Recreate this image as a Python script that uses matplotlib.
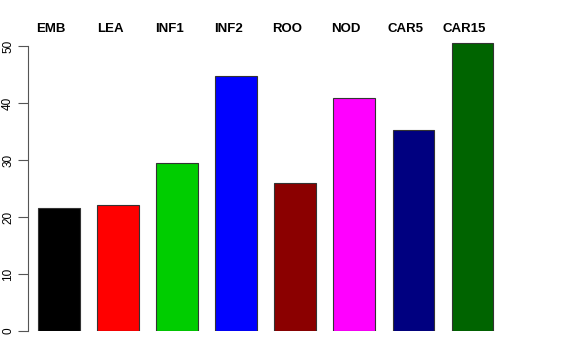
import matplotlib
matplotlib.use("Agg")
from matplotlib import pyplot as plt

labels = ["EMB", "LEA", "INF1", "INF2", "ROO", "NOD", "CAR5", "CAR15"]
values = [21.6, 22.1, 29.5, 44.7, 25.9, 40.8, 35.3, 50.6]
colors = ["#000000", "#FF0000", "#00CD00", "#0000FF", "#8B0000", "#FF00FF", "#000080", "#006400"]

plt.rcParams["font.family"] = ["Liberation Sans", "DejaVu Sans"]

fig = plt.figure(figsize=(5.76, 3.6), dpi=100)
ax = fig.add_axes([28 / 576, 29 / 360, (510 - 28) / 576, (331 - 40) / 360])

x = list(range(len(labels)))
ax.bar(x, values, width=0.7, color=colors, edgecolor="#333333", linewidth=0.8)

ax.set_xlim(-0.525, 7.64)
ax.set_ylim(0, 291 / 5.7)

# names sit a little left of the bar centres, as in the original
for i, lab in enumerate(labels):
    ax.text(i - 0.135, 1 + 8 / 291, lab, transform=ax.get_xaxis_transform(), ha="center",
            va="baseline", fontsize=9.5, fontweight="bold")

for s in ["top", "right", "bottom"]:
    ax.spines[s].set_visible(False)
ax.spines["left"].set_bounds(0, 50)
ax.spines["left"].set_color("#555555")
ax.set_xticks([])
ax.set_yticks([0, 10, 20, 30, 40, 50])
ax.tick_params(axis="y", length=7, color="#555555", labelsize=8.5, pad=3)
for t in ax.get_yticklabels():
    t.set_rotation(90)
    t.set_va("center")

fig.savefig("out.png", dpi=100)
